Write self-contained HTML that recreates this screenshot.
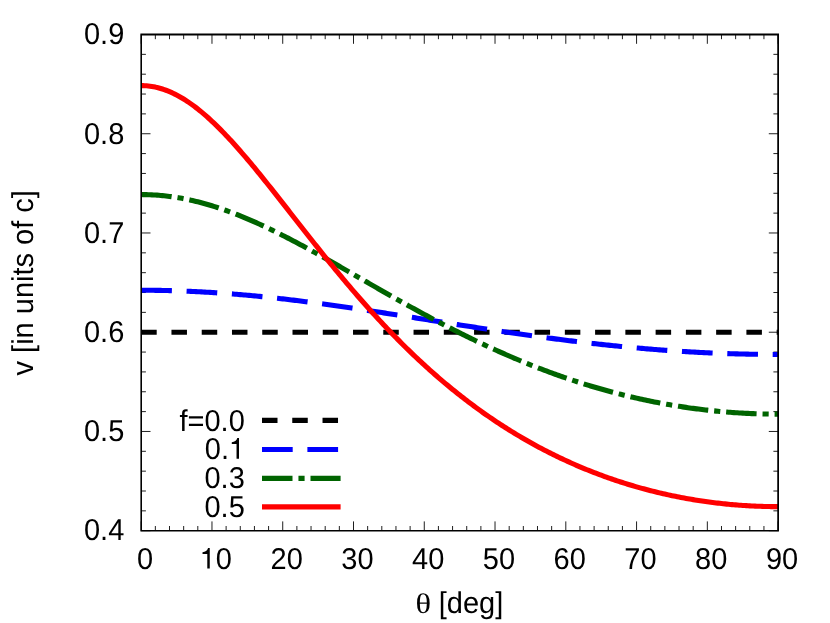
<!DOCTYPE html><html><head><meta charset="utf-8"><style>html,body{margin:0;padding:0;background:#fff}svg{display:block;will-change:transform}text{font-family:"Liberation Sans",sans-serif;font-size:29px;fill:#000;text-rendering:geometricPrecision}</style></head><body>
<svg width="830" height="623" viewBox="0 0 830 623">
<rect width="830" height="623" fill="#fff"/>
<path d="M141.20,530.70 v-9.30 M141.20,34.50 v9.30 M155.35,530.70 v-4.70 M155.35,34.50 v4.70 M169.51,530.70 v-4.70 M169.51,34.50 v4.70 M183.66,530.70 v-4.70 M183.66,34.50 v4.70 M197.81,530.70 v-4.70 M197.81,34.50 v4.70 M211.97,530.70 v-9.30 M211.97,34.50 v9.30 M226.12,530.70 v-4.70 M226.12,34.50 v4.70 M240.27,530.70 v-4.70 M240.27,34.50 v4.70 M254.43,530.70 v-4.70 M254.43,34.50 v4.70 M268.58,530.70 v-4.70 M268.58,34.50 v4.70 M282.73,530.70 v-9.30 M282.73,34.50 v9.30 M296.89,530.70 v-4.70 M296.89,34.50 v4.70 M311.04,530.70 v-4.70 M311.04,34.50 v4.70 M325.19,530.70 v-4.70 M325.19,34.50 v4.70 M339.35,530.70 v-4.70 M339.35,34.50 v4.70 M353.50,530.70 v-9.30 M353.50,34.50 v9.30 M367.65,530.70 v-4.70 M367.65,34.50 v4.70 M381.81,530.70 v-4.70 M381.81,34.50 v4.70 M395.96,530.70 v-4.70 M395.96,34.50 v4.70 M410.11,530.70 v-4.70 M410.11,34.50 v4.70 M424.27,530.70 v-9.30 M424.27,34.50 v9.30 M438.42,530.70 v-4.70 M438.42,34.50 v4.70 M452.57,530.70 v-4.70 M452.57,34.50 v4.70 M466.73,530.70 v-4.70 M466.73,34.50 v4.70 M480.88,530.70 v-4.70 M480.88,34.50 v4.70 M495.03,530.70 v-9.30 M495.03,34.50 v9.30 M509.19,530.70 v-4.70 M509.19,34.50 v4.70 M523.34,530.70 v-4.70 M523.34,34.50 v4.70 M537.49,530.70 v-4.70 M537.49,34.50 v4.70 M551.65,530.70 v-4.70 M551.65,34.50 v4.70 M565.80,530.70 v-9.30 M565.80,34.50 v9.30 M579.95,530.70 v-4.70 M579.95,34.50 v4.70 M594.11,530.70 v-4.70 M594.11,34.50 v4.70 M608.26,530.70 v-4.70 M608.26,34.50 v4.70 M622.41,530.70 v-4.70 M622.41,34.50 v4.70 M636.57,530.70 v-9.30 M636.57,34.50 v9.30 M650.72,530.70 v-4.70 M650.72,34.50 v4.70 M664.87,530.70 v-4.70 M664.87,34.50 v4.70 M679.03,530.70 v-4.70 M679.03,34.50 v4.70 M693.18,530.70 v-4.70 M693.18,34.50 v4.70 M707.33,530.70 v-9.30 M707.33,34.50 v9.30 M721.49,530.70 v-4.70 M721.49,34.50 v4.70 M735.64,530.70 v-4.70 M735.64,34.50 v4.70 M749.79,530.70 v-4.70 M749.79,34.50 v4.70 M763.95,530.70 v-4.70 M763.95,34.50 v4.70 M778.10,530.70 v-9.30 M778.10,34.50 v9.30 M141.20,530.70 h9.30 M778.10,530.70 h-9.30 M141.20,510.85 h4.70 M778.10,510.85 h-4.70 M141.20,491.00 h4.70 M778.10,491.00 h-4.70 M141.20,471.16 h4.70 M778.10,471.16 h-4.70 M141.20,451.31 h4.70 M778.10,451.31 h-4.70 M141.20,431.46 h9.30 M778.10,431.46 h-9.30 M141.20,411.61 h4.70 M778.10,411.61 h-4.70 M141.20,391.76 h4.70 M778.10,391.76 h-4.70 M141.20,371.92 h4.70 M778.10,371.92 h-4.70 M141.20,352.07 h4.70 M778.10,352.07 h-4.70 M141.20,332.22 h9.30 M778.10,332.22 h-9.30 M141.20,312.37 h4.70 M778.10,312.37 h-4.70 M141.20,292.52 h4.70 M778.10,292.52 h-4.70 M141.20,272.68 h4.70 M778.10,272.68 h-4.70 M141.20,252.83 h4.70 M778.10,252.83 h-4.70 M141.20,232.98 h9.30 M778.10,232.98 h-9.30 M141.20,213.13 h4.70 M778.10,213.13 h-4.70 M141.20,193.28 h4.70 M778.10,193.28 h-4.70 M141.20,173.44 h4.70 M778.10,173.44 h-4.70 M141.20,153.59 h4.70 M778.10,153.59 h-4.70 M141.20,133.74 h9.30 M778.10,133.74 h-9.30 M141.20,113.89 h4.70 M778.10,113.89 h-4.70 M141.20,94.04 h4.70 M778.10,94.04 h-4.70 M141.20,74.20 h4.70 M778.10,74.20 h-4.70 M141.20,54.35 h4.70 M778.10,54.35 h-4.70 M141.20,34.50 h9.30 M778.10,34.50 h-9.30" stroke="#000" stroke-width="0.88" fill="none"/>
<g fill="none" stroke-width="5.10" stroke-linejoin="round">
<path d="M141.20,332.22 H778.10" stroke="#000" stroke-dasharray="15.5 14.76"/>
<path d="M141.20,290.24 L142.97,290.24 L144.74,290.25 L146.51,290.25 L148.28,290.26 L150.05,290.28 L151.81,290.29 L153.58,290.31 L155.35,290.33 L157.12,290.36 L158.89,290.38 L160.66,290.41 L162.43,290.45 L164.20,290.48 L165.97,290.52 L167.74,290.56 L169.51,290.61 L171.28,290.66 L173.04,290.71 L174.81,290.76 L176.58,290.81 L178.35,290.87 L180.12,290.93 L181.89,291.00 L183.66,291.06 L185.43,291.13 L187.20,291.21 L188.97,291.28 L190.74,291.36 L192.51,291.44 L194.28,291.52 L196.04,291.61 L197.81,291.70 L199.58,291.79 L201.35,291.88 L203.12,291.98 L204.89,292.08 L206.66,292.18 L208.43,292.29 L210.20,292.39 L211.97,292.50 L213.74,292.62 L215.50,292.73 L217.27,292.85 L219.04,292.97 L220.81,293.09 L222.58,293.22 L224.35,293.35 L226.12,293.48 L227.89,293.61 L229.66,293.74 L231.43,293.88 L233.20,294.02 L234.97,294.17 L236.74,294.31 L238.50,294.46 L240.27,294.61 L242.04,294.76 L243.81,294.92 L245.58,295.07 L247.35,295.23 L249.12,295.39 L250.89,295.56 L252.66,295.73 L254.43,295.89 L256.20,296.06 L257.97,296.24 L259.73,296.41 L261.50,296.59 L263.27,296.77 L265.04,296.95 L266.81,297.14 L268.58,297.32 L270.35,297.51 L272.12,297.70 L273.89,297.89 L275.66,298.09 L277.43,298.28 L279.19,298.48 L280.96,298.68 L282.73,298.88 L284.50,299.09 L286.27,299.29 L288.04,299.50 L289.81,299.71 L291.58,299.92 L293.35,300.13 L295.12,300.35 L296.89,300.57 L298.66,300.78 L300.43,301.00 L302.19,301.23 L303.96,301.45 L305.73,301.68 L307.50,301.90 L309.27,302.13 L311.04,302.36 L312.81,302.59 L314.58,302.83 L316.35,303.06 L318.12,303.30 L319.89,303.53 L321.66,303.77 L323.42,304.01 L325.19,304.25 L326.96,304.50 L328.73,304.74 L330.50,304.99 L332.27,305.24 L334.04,305.48 L335.81,305.73 L337.58,305.98 L339.35,306.24 L341.12,306.49 L342.88,306.74 L344.65,307.00 L346.42,307.26 L348.19,307.51 L349.96,307.77 L351.73,308.03 L353.50,308.29 L355.27,308.56 L357.04,308.82 L358.81,309.08 L360.58,309.35 L362.35,309.61 L364.12,309.88 L365.88,310.15 L367.65,310.41 L369.42,310.68 L371.19,310.95 L372.96,311.22 L374.73,311.50 L376.50,311.77 L378.27,312.04 L380.04,312.31 L381.81,312.59 L383.58,312.86 L385.35,313.14 L387.11,313.41 L388.88,313.69 L390.65,313.96 L392.42,314.24 L394.19,314.52 L395.96,314.80 L397.73,315.07 L399.50,315.35 L401.27,315.63 L403.04,315.91 L404.81,316.19 L406.58,316.47 L408.34,316.75 L410.11,317.03 L411.88,317.31 L413.65,317.59 L415.42,317.87 L417.19,318.16 L418.96,318.44 L420.73,318.72 L422.50,319.00 L424.27,319.28 L426.04,319.56 L427.81,319.85 L429.57,320.13 L431.34,320.41 L433.11,320.69 L434.88,320.97 L436.65,321.25 L438.42,321.54 L440.19,321.82 L441.96,322.10 L443.73,322.38 L445.50,322.66 L447.27,322.94 L449.04,323.22 L450.80,323.50 L452.57,323.78 L454.34,324.06 L456.11,324.34 L457.88,324.62 L459.65,324.90 L461.42,325.17 L463.19,325.45 L464.96,325.73 L466.73,326.01 L468.50,326.28 L470.27,326.56 L472.03,326.83 L473.80,327.11 L475.57,327.38 L477.34,327.65 L479.11,327.93 L480.88,328.20 L482.65,328.47 L484.42,328.74 L486.19,329.01 L487.96,329.28 L489.73,329.55 L491.50,329.82 L493.26,330.09 L495.03,330.36 L496.80,330.62 L498.57,330.89 L500.34,331.15 L502.11,331.42 L503.88,331.68 L505.65,331.94 L507.42,332.20 L509.19,332.46 L510.96,332.72 L512.73,332.98 L514.49,333.24 L516.26,333.50 L518.03,333.75 L519.80,334.01 L521.57,334.26 L523.34,334.51 L525.11,334.76 L526.88,335.01 L528.65,335.26 L530.42,335.51 L532.19,335.76 L533.96,336.01 L535.72,336.25 L537.49,336.49 L539.26,336.74 L541.03,336.98 L542.80,337.22 L544.57,337.46 L546.34,337.70 L548.11,337.93 L549.88,338.17 L551.65,338.40 L553.42,338.64 L555.19,338.87 L556.95,339.10 L558.72,339.33 L560.49,339.55 L562.26,339.78 L564.03,340.01 L565.80,340.23 L567.57,340.45 L569.34,340.67 L571.11,340.89 L572.88,341.11 L574.65,341.33 L576.42,341.54 L578.18,341.76 L579.95,341.97 L581.72,342.18 L583.49,342.39 L585.26,342.60 L587.03,342.80 L588.80,343.01 L590.57,343.21 L592.34,343.41 L594.11,343.61 L595.88,343.81 L597.64,344.01 L599.41,344.20 L601.18,344.40 L602.95,344.59 L604.72,344.78 L606.49,344.97 L608.26,345.16 L610.03,345.34 L611.80,345.53 L613.57,345.71 L615.34,345.89 L617.11,346.07 L618.88,346.25 L620.64,346.42 L622.41,346.60 L624.18,346.77 L625.95,346.94 L627.72,347.11 L629.49,347.28 L631.26,347.44 L633.03,347.60 L634.80,347.77 L636.57,347.93 L638.34,348.08 L640.11,348.24 L641.87,348.40 L643.64,348.55 L645.41,348.70 L647.18,348.85 L648.95,349.00 L650.72,349.14 L652.49,349.28 L654.26,349.43 L656.03,349.57 L657.80,349.70 L659.57,349.84 L661.34,349.97 L663.10,350.11 L664.87,350.24 L666.64,350.37 L668.41,350.49 L670.18,350.62 L671.95,350.74 L673.72,350.86 L675.49,350.98 L677.26,351.10 L679.03,351.21 L680.80,351.33 L682.57,351.44 L684.33,351.55 L686.10,351.65 L687.87,351.76 L689.64,351.86 L691.41,351.97 L693.18,352.06 L694.95,352.16 L696.72,352.26 L698.49,352.35 L700.26,352.44 L702.03,352.53 L703.80,352.62 L705.56,352.71 L707.33,352.79 L709.10,352.87 L710.87,352.95 L712.64,353.03 L714.41,353.10 L716.18,353.18 L717.95,353.25 L719.72,353.32 L721.49,353.38 L723.26,353.45 L725.03,353.51 L726.79,353.57 L728.56,353.63 L730.33,353.69 L732.10,353.75 L733.87,353.80 L735.64,353.85 L737.41,353.90 L739.18,353.95 L740.95,353.99 L742.72,354.03 L744.49,354.07 L746.26,354.11 L748.02,354.15 L749.79,354.18 L751.56,354.22 L753.33,354.25 L755.10,354.27 L756.87,354.30 L758.64,354.32 L760.41,354.35 L762.18,354.37 L763.95,354.38 L765.72,354.40 L767.49,354.41 L769.25,354.42 L771.02,354.43 L772.79,354.44 L774.56,354.45 L776.33,354.45 L778.10,354.45" stroke="#0000ff" stroke-dasharray="30.7 14.69"/>
<path d="M141.20,194.57 L142.97,194.58 L144.74,194.60 L146.51,194.64 L148.28,194.69 L150.05,194.76 L151.81,194.83 L153.58,194.93 L155.35,195.04 L157.12,195.16 L158.89,195.30 L160.66,195.45 L162.43,195.61 L164.20,195.79 L165.97,195.99 L167.74,196.20 L169.51,196.42 L171.28,196.65 L173.04,196.91 L174.81,197.17 L176.58,197.45 L178.35,197.74 L180.12,198.04 L181.89,198.36 L183.66,198.70 L185.43,199.04 L187.20,199.40 L188.97,199.77 L190.74,200.16 L192.51,200.56 L194.28,200.97 L196.04,201.40 L197.81,201.83 L199.58,202.28 L201.35,202.75 L203.12,203.22 L204.89,203.71 L206.66,204.21 L208.43,204.72 L210.20,205.25 L211.97,205.78 L213.74,206.33 L215.50,206.89 L217.27,207.46 L219.04,208.05 L220.81,208.64 L222.58,209.24 L224.35,209.86 L226.12,210.49 L227.89,211.12 L229.66,211.77 L231.43,212.43 L233.20,213.10 L234.97,213.78 L236.74,214.47 L238.50,215.17 L240.27,215.88 L242.04,216.59 L243.81,217.32 L245.58,218.06 L247.35,218.80 L249.12,219.56 L250.89,220.32 L252.66,221.09 L254.43,221.88 L256.20,222.66 L257.97,223.46 L259.73,224.27 L261.50,225.08 L263.27,225.90 L265.04,226.73 L266.81,227.57 L268.58,228.41 L270.35,229.26 L272.12,230.12 L273.89,230.98 L275.66,231.85 L277.43,232.73 L279.19,233.61 L280.96,234.50 L282.73,235.40 L284.50,236.30 L286.27,237.21 L288.04,238.12 L289.81,239.04 L291.58,239.96 L293.35,240.89 L295.12,241.82 L296.89,242.76 L298.66,243.70 L300.43,244.65 L302.19,245.60 L303.96,246.56 L305.73,247.52 L307.50,248.48 L309.27,249.45 L311.04,250.42 L312.81,251.39 L314.58,252.37 L316.35,253.35 L318.12,254.34 L319.89,255.32 L321.66,256.31 L323.42,257.30 L325.19,258.30 L326.96,259.30 L328.73,260.29 L330.50,261.30 L332.27,262.30 L334.04,263.30 L335.81,264.31 L337.58,265.32 L339.35,266.33 L341.12,267.34 L342.88,268.35 L344.65,269.37 L346.42,270.38 L348.19,271.39 L349.96,272.41 L351.73,273.43 L353.50,274.44 L355.27,275.46 L357.04,276.48 L358.81,277.50 L360.58,278.51 L362.35,279.53 L364.12,280.55 L365.88,281.57 L367.65,282.58 L369.42,283.60 L371.19,284.62 L372.96,285.63 L374.73,286.65 L376.50,287.66 L378.27,288.67 L380.04,289.68 L381.81,290.69 L383.58,291.70 L385.35,292.71 L387.11,293.72 L388.88,294.72 L390.65,295.72 L392.42,296.73 L394.19,297.73 L395.96,298.72 L397.73,299.72 L399.50,300.71 L401.27,301.71 L403.04,302.69 L404.81,303.68 L406.58,304.67 L408.34,305.65 L410.11,306.63 L411.88,307.61 L413.65,308.58 L415.42,309.56 L417.19,310.53 L418.96,311.50 L420.73,312.46 L422.50,313.42 L424.27,314.38 L426.04,315.34 L427.81,316.29 L429.57,317.24 L431.34,318.18 L433.11,319.13 L434.88,320.07 L436.65,321.00 L438.42,321.94 L440.19,322.87 L441.96,323.79 L443.73,324.71 L445.50,325.63 L447.27,326.55 L449.04,327.46 L450.80,328.37 L452.57,329.27 L454.34,330.17 L456.11,331.07 L457.88,331.96 L459.65,332.85 L461.42,333.74 L463.19,334.62 L464.96,335.49 L466.73,336.37 L468.50,337.23 L470.27,338.10 L472.03,338.96 L473.80,339.81 L475.57,340.67 L477.34,341.51 L479.11,342.36 L480.88,343.20 L482.65,344.03 L484.42,344.86 L486.19,345.69 L487.96,346.51 L489.73,347.32 L491.50,348.14 L493.26,348.94 L495.03,349.75 L496.80,350.55 L498.57,351.34 L500.34,352.13 L502.11,352.91 L503.88,353.69 L505.65,354.47 L507.42,355.24 L509.19,356.01 L510.96,356.77 L512.73,357.53 L514.49,358.28 L516.26,359.02 L518.03,359.77 L519.80,360.50 L521.57,361.24 L523.34,361.97 L525.11,362.69 L526.88,363.41 L528.65,364.12 L530.42,364.83 L532.19,365.53 L533.96,366.23 L535.72,366.92 L537.49,367.61 L539.26,368.30 L541.03,368.98 L542.80,369.65 L544.57,370.32 L546.34,370.98 L548.11,371.64 L549.88,372.29 L551.65,372.94 L553.42,373.59 L555.19,374.23 L556.95,374.86 L558.72,375.49 L560.49,376.11 L562.26,376.73 L564.03,377.35 L565.80,377.95 L567.57,378.56 L569.34,379.16 L571.11,379.75 L572.88,380.34 L574.65,380.92 L576.42,381.50 L578.18,382.07 L579.95,382.64 L581.72,383.20 L583.49,383.76 L585.26,384.32 L587.03,384.86 L588.80,385.41 L590.57,385.94 L592.34,386.48 L594.11,387.00 L595.88,387.53 L597.64,388.04 L599.41,388.55 L601.18,389.06 L602.95,389.56 L604.72,390.06 L606.49,390.55 L608.26,391.04 L610.03,391.52 L611.80,392.00 L613.57,392.47 L615.34,392.93 L617.11,393.39 L618.88,393.85 L620.64,394.30 L622.41,394.75 L624.18,395.19 L625.95,395.62 L627.72,396.05 L629.49,396.48 L631.26,396.90 L633.03,397.31 L634.80,397.72 L636.57,398.13 L638.34,398.53 L640.11,398.92 L641.87,399.31 L643.64,399.69 L645.41,400.07 L647.18,400.45 L648.95,400.82 L650.72,401.18 L652.49,401.54 L654.26,401.89 L656.03,402.24 L657.80,402.59 L659.57,402.92 L661.34,403.26 L663.10,403.59 L664.87,403.91 L666.64,404.23 L668.41,404.54 L670.18,404.85 L671.95,405.15 L673.72,405.45 L675.49,405.74 L677.26,406.03 L679.03,406.31 L680.80,406.59 L682.57,406.86 L684.33,407.13 L686.10,407.39 L687.87,407.65 L689.64,407.90 L691.41,408.15 L693.18,408.39 L694.95,408.63 L696.72,408.86 L698.49,409.09 L700.26,409.31 L702.03,409.53 L703.80,409.74 L705.56,409.95 L707.33,410.15 L709.10,410.35 L710.87,410.54 L712.64,410.73 L714.41,410.91 L716.18,411.09 L717.95,411.26 L719.72,411.43 L721.49,411.59 L723.26,411.75 L725.03,411.90 L726.79,412.05 L728.56,412.19 L730.33,412.33 L732.10,412.46 L733.87,412.59 L735.64,412.71 L737.41,412.82 L739.18,412.94 L740.95,413.04 L742.72,413.15 L744.49,413.24 L746.26,413.34 L748.02,413.42 L749.79,413.51 L751.56,413.58 L753.33,413.65 L755.10,413.72 L756.87,413.78 L758.64,413.84 L760.41,413.89 L762.18,413.94 L763.95,413.98 L765.72,414.02 L767.49,414.05 L769.25,414.08 L771.02,414.10 L772.79,414.12 L774.56,414.13 L776.33,414.14 L778.10,414.14" stroke="#006400" stroke-dasharray="30.5 5.95 6.15 5.9"/>
<path d="M141.20,85.58 L142.97,85.60 L144.74,85.68 L146.51,85.80 L148.28,85.96 L150.05,86.18 L151.81,86.44 L153.58,86.75 L155.35,87.11 L157.12,87.52 L158.89,87.97 L160.66,88.47 L162.43,89.02 L164.20,89.61 L165.97,90.25 L167.74,90.93 L169.51,91.66 L171.28,92.43 L173.04,93.25 L174.81,94.11 L176.58,95.01 L178.35,95.96 L180.12,96.95 L181.89,97.98 L183.66,99.05 L185.43,100.16 L187.20,101.31 L188.97,102.51 L190.74,103.73 L192.51,105.00 L194.28,106.31 L196.04,107.65 L197.81,109.03 L199.58,110.44 L201.35,111.89 L203.12,113.37 L204.89,114.89 L206.66,116.43 L208.43,118.01 L210.20,119.62 L211.97,121.26 L213.74,122.93 L215.50,124.63 L217.27,126.36 L219.04,128.11 L220.81,129.89 L222.58,131.70 L224.35,133.53 L226.12,135.39 L227.89,137.27 L229.66,139.17 L231.43,141.09 L233.20,143.03 L234.97,145.00 L236.74,146.98 L238.50,148.99 L240.27,151.01 L242.04,153.05 L243.81,155.10 L245.58,157.17 L247.35,159.26 L249.12,161.36 L250.89,163.47 L252.66,165.60 L254.43,167.74 L256.20,169.90 L257.97,172.06 L259.73,174.23 L261.50,176.42 L263.27,178.61 L265.04,180.81 L266.81,183.02 L268.58,185.24 L270.35,187.46 L272.12,189.69 L273.89,191.92 L275.66,194.16 L277.43,196.41 L279.19,198.66 L280.96,200.91 L282.73,203.17 L284.50,205.42 L286.27,207.68 L288.04,209.94 L289.81,212.20 L291.58,214.47 L293.35,216.73 L295.12,218.99 L296.89,221.25 L298.66,223.51 L300.43,225.77 L302.19,228.02 L303.96,230.28 L305.73,232.53 L307.50,234.78 L309.27,237.02 L311.04,239.26 L312.81,241.49 L314.58,243.73 L316.35,245.95 L318.12,248.17 L319.89,250.39 L321.66,252.60 L323.42,254.80 L325.19,257.00 L326.96,259.19 L328.73,261.37 L330.50,263.55 L332.27,265.72 L334.04,267.88 L335.81,270.04 L337.58,272.18 L339.35,274.32 L341.12,276.45 L342.88,278.57 L344.65,280.68 L346.42,282.79 L348.19,284.88 L349.96,286.97 L351.73,289.04 L353.50,291.11 L355.27,293.17 L357.04,295.21 L358.81,297.25 L360.58,299.28 L362.35,301.30 L364.12,303.30 L365.88,305.30 L367.65,307.29 L369.42,309.26 L371.19,311.23 L372.96,313.18 L374.73,315.12 L376.50,317.06 L378.27,318.98 L380.04,320.89 L381.81,322.79 L383.58,324.68 L385.35,326.55 L387.11,328.42 L388.88,330.27 L390.65,332.12 L392.42,333.95 L394.19,335.77 L395.96,337.58 L397.73,339.38 L399.50,341.16 L401.27,342.94 L403.04,344.70 L404.81,346.45 L406.58,348.20 L408.34,349.92 L410.11,351.64 L411.88,353.35 L413.65,355.04 L415.42,356.73 L417.19,358.40 L418.96,360.06 L420.73,361.70 L422.50,363.34 L424.27,364.97 L426.04,366.58 L427.81,368.18 L429.57,369.77 L431.34,371.35 L433.11,372.92 L434.88,374.48 L436.65,376.02 L438.42,377.56 L440.19,379.08 L441.96,380.59 L443.73,382.09 L445.50,383.58 L447.27,385.06 L449.04,386.52 L450.80,387.98 L452.57,389.42 L454.34,390.85 L456.11,392.28 L457.88,393.69 L459.65,395.09 L461.42,396.47 L463.19,397.85 L464.96,399.22 L466.73,400.58 L468.50,401.92 L470.27,403.26 L472.03,404.58 L473.80,405.89 L475.57,407.20 L477.34,408.49 L479.11,409.77 L480.88,411.04 L482.65,412.30 L484.42,413.55 L486.19,414.79 L487.96,416.02 L489.73,417.24 L491.50,418.45 L493.26,419.65 L495.03,420.84 L496.80,422.01 L498.57,423.18 L500.34,424.34 L502.11,425.49 L503.88,426.63 L505.65,427.76 L507.42,428.87 L509.19,429.98 L510.96,431.08 L512.73,432.17 L514.49,433.25 L516.26,434.32 L518.03,435.38 L519.80,436.43 L521.57,437.47 L523.34,438.51 L525.11,439.53 L526.88,440.54 L528.65,441.55 L530.42,442.54 L532.19,443.53 L533.96,444.50 L535.72,445.47 L537.49,446.43 L539.26,447.38 L541.03,448.32 L542.80,449.25 L544.57,450.17 L546.34,451.09 L548.11,451.99 L549.88,452.89 L551.65,453.77 L553.42,454.65 L555.19,455.52 L556.95,456.38 L558.72,457.24 L560.49,458.08 L562.26,458.92 L564.03,459.74 L565.80,460.56 L567.57,461.37 L569.34,462.18 L571.11,462.97 L572.88,463.75 L574.65,464.53 L576.42,465.30 L578.18,466.06 L579.95,466.82 L581.72,467.56 L583.49,468.30 L585.26,469.03 L587.03,469.75 L588.80,470.46 L590.57,471.17 L592.34,471.86 L594.11,472.55 L595.88,473.23 L597.64,473.91 L599.41,474.57 L601.18,475.23 L602.95,475.88 L604.72,476.53 L606.49,477.16 L608.26,477.79 L610.03,478.41 L611.80,479.03 L613.57,479.63 L615.34,480.23 L617.11,480.82 L618.88,481.40 L620.64,481.98 L622.41,482.55 L624.18,483.11 L625.95,483.67 L627.72,484.21 L629.49,484.75 L631.26,485.29 L633.03,485.81 L634.80,486.33 L636.57,486.84 L638.34,487.35 L640.11,487.85 L641.87,488.34 L643.64,488.82 L645.41,489.30 L647.18,489.77 L648.95,490.23 L650.72,490.69 L652.49,491.14 L654.26,491.58 L656.03,492.01 L657.80,492.44 L659.57,492.86 L661.34,493.28 L663.10,493.69 L664.87,494.09 L666.64,494.49 L668.41,494.87 L670.18,495.26 L671.95,495.63 L673.72,496.00 L675.49,496.36 L677.26,496.72 L679.03,497.07 L680.80,497.41 L682.57,497.75 L684.33,498.08 L686.10,498.40 L687.87,498.72 L689.64,499.03 L691.41,499.33 L693.18,499.63 L694.95,499.92 L696.72,500.20 L698.49,500.48 L700.26,500.76 L702.03,501.02 L703.80,501.28 L705.56,501.53 L707.33,501.78 L709.10,502.02 L710.87,502.26 L712.64,502.48 L714.41,502.71 L716.18,502.92 L717.95,503.13 L719.72,503.34 L721.49,503.53 L723.26,503.72 L725.03,503.91 L726.79,504.09 L728.56,504.26 L730.33,504.43 L732.10,504.59 L733.87,504.74 L735.64,504.89 L737.41,505.03 L739.18,505.17 L740.95,505.30 L742.72,505.42 L744.49,505.54 L746.26,505.65 L748.02,505.75 L749.79,505.85 L751.56,505.95 L753.33,506.03 L755.10,506.12 L756.87,506.19 L758.64,506.26 L760.41,506.32 L762.18,506.38 L763.95,506.43 L765.72,506.48 L767.49,506.52 L769.25,506.55 L771.02,506.58 L772.79,506.60 L774.56,506.61 L776.33,506.62 L778.10,506.62" stroke="#ff0000"/>
<path d="M262.00,420.40 H340.60" stroke="#000" stroke-dasharray="15.5 14.76"/>
<path d="M262.00,449.50 H340.60" stroke="#0000ff" stroke-dasharray="30.7 14.69"/>
<path d="M262.00,478.40 H340.60" stroke="#006400" stroke-dasharray="30.5 5.95 6.15 5.9"/>
<path d="M262.00,506.90 H340.60" stroke="#ff0000"/>
</g>
<path fill="#000" fill-rule="evenodd" d="M140.4,33.6 H779 V531.5 H140.4 Z M142,35.45 H777.25 V529.95 H142 Z"/>
<text transform="translate(124.30,44.40) scale(1,1.04)" text-anchor="end">0.9</text>
<text transform="translate(124.30,143.59) scale(1,1.04)" text-anchor="end">0.8</text>
<text transform="translate(124.30,242.78) scale(1,1.04)" text-anchor="end">0.7</text>
<text transform="translate(124.30,341.97) scale(1,1.04)" text-anchor="end">0.6</text>
<text transform="translate(124.30,441.16) scale(1,1.04)" text-anchor="end">0.5</text>
<text transform="translate(124.30,540.35) scale(1,1.04)" text-anchor="end">0.4</text>
<text transform="translate(145.10,568.70) scale(1,1.04)" text-anchor="middle">0</text>
<path transform="translate(199.70,568.60) scale(0.028,-0.0292)" fill="#000" d="M271,0 V501 H101 V564 C200,574 272,612 299,703 H359 V0 Z"/>
<text transform="translate(215.80,568.70) scale(1,1.04)" text-anchor="start">0</text>
<text transform="translate(286.63,568.70) scale(1,1.04)" text-anchor="middle">20</text>
<text transform="translate(357.40,568.70) scale(1,1.04)" text-anchor="middle">30</text>
<text transform="translate(428.17,568.70) scale(1,1.04)" text-anchor="middle">40</text>
<text transform="translate(498.93,568.70) scale(1,1.04)" text-anchor="middle">50</text>
<text transform="translate(569.70,568.70) scale(1,1.04)" text-anchor="middle">60</text>
<text transform="translate(640.47,568.70) scale(1,1.04)" text-anchor="middle">70</text>
<text transform="translate(711.23,568.70) scale(1,1.04)" text-anchor="middle">80</text>
<text transform="translate(782.00,568.70) scale(1,1.04)" text-anchor="middle">90</text>
<text transform="translate(244.80,430.80) scale(1,1.04)" text-anchor="end">f=0.0</text>
<text transform="translate(244.80,488.20) scale(1,1.04)" text-anchor="end">0.3</text>
<text transform="translate(244.80,516.85) scale(1,1.04)" text-anchor="end">0.5</text>
<text transform="translate(204.85,458.80) scale(1,1.04)" text-anchor="start">0.</text>
<path transform="translate(228.95,458.65) scale(0.028,-0.0292)" fill="#000" d="M271,0 V501 H101 V564 C200,574 272,612 299,703 H359 V0 Z"/>
<text transform="translate(415.5,612.5) scale(1.12,0.98)" style="font-family:'Liberation Serif',serif">θ</text>
<text transform="translate(438.80,612.50) scale(1,1.04)" text-anchor="start">[deg]</text>
<text transform="translate(32.60,282.80) rotate(-90) scale(1,1.04)" text-anchor="middle">v [in units of c]</text>
</svg></body></html>
